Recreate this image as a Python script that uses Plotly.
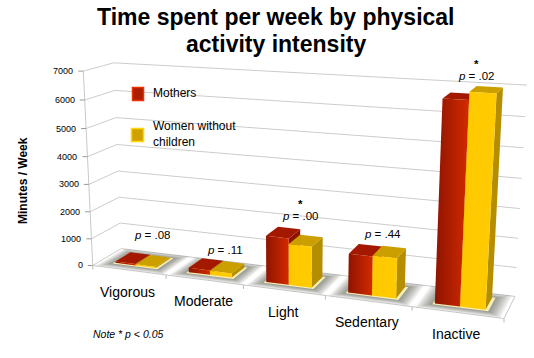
import numpy as np
import plotly.graph_objects as go

categories = ["Vigorous", "Moderate", "Light", "Sedentary", "Inactive"]
mothers = [50, 160, 1650, 1350, 6700]
women = [40, 150, 1450, 1380, 6950]
p_labels = ["<i>p</i> = .08", "<i>p</i> = .11", "<i>p</i> = .00", "<i>p</i> = .44", "<i>p</i> = .02"]
stars = ["", "", "*", "", "*"]
z_ticks = [0, 1000, 2000, 3000, 4000, 5000, 6000, 7000]
z_max = 7000

W, H = 534, 358
FONT = "Liberation Sans"

# Camera of the 3D chart: solved from where the box corners sit on the page.
box_corners = np.array([[0,0,0],[0,1,0],[5,1,0],[5,0,0],[0,0,7000],[0,1,7000],[5,1,7000]], float)
page_corners = np.array([[94,266],[120,248],[515,297],[504,318],[82,71],[115,63],[527,85]], float)

def solve_camera():
    rows = []
    for (x, y, z), (u, v) in zip(box_corners, page_corners):
        q = [x / 5, y, z / z_max, 1]
        rows.append(q + [0, 0, 0, 0] + [-u * a for a in q])
        rows.append([0, 0, 0, 0] + q + [-v * a for a in q])
    _, _, vt = np.linalg.svd(np.array(rows))
    return vt[-1].reshape(3, 4)

CAM = solve_camera()

def proj(x, y, z):
    h = CAM @ np.array([x / 5, y, z / z_max, 1.0])
    return h[0] / h[2], h[1] / h[2]

fig = go.Figure()

def poly(pts, color=None, gradient=None):
    uv = [proj(*p) for p in pts]
    xs = [a for a, _ in uv] + [uv[0][0]]
    ys = [b for _, b in uv] + [uv[0][1]]
    kw = dict(fillgradient=dict(type="horizontal", colorscale=[[0, gradient[0]], [1, gradient[1]]])) if gradient else dict(fillcolor=color)
    fig.add_trace(go.Scatter(x=xs, y=ys, mode="lines", fill="toself", line=dict(width=0), hoverinfo="skip", **kw))

def line(pts, color="#cccccc", width=1):
    uv = [proj(*p) for p in pts]
    fig.add_trace(go.Scatter(x=[a for a, _ in uv], y=[b for _, b in uv], mode="lines",
                             line=dict(color=color, width=width), hoverinfo="skip"))

# walls and floor
for t in z_ticks:
    line([(0, 0, t), (0, 1, t), (5, 1, t)])
line([(0, 0, 0), (0, 0, z_max)], "#c8c8c8")
line([(0, 0, 0), (5, 0, 0), (5, 1, 0)], "#c8c8c8")
for i in range(6):
    a = proj(i, 0, 0)
    fig.add_trace(go.Scatter(x=[a[0], a[0]], y=[a[1], a[1] + 4], mode="lines", line=dict(color="#bbbbbb", width=1), hoverinfo="skip"))
for t in z_ticks:
    a = proj(0, 0, t)
    fig.add_trace(go.Scatter(x=[a[0] - 5, a[0]], y=[a[1], a[1]], mode="lines", line=dict(color="#999999", width=1), hoverinfo="skip"))

y0, y1, hw = 0.26, 0.80, 0.28

def rect(x0, x1, b0, b1, z=0):
    return [(x0, b0, z), (x1, b0, z), (x1, b1, z), (x0, b1, z)]

def bar(x0, x1, v, front, top, side):
    poly([(x1, y0, 0), (x1, y1, 0), (x1, y1, v), (x1, y0, v)], side)
    poly(rect(x0, x1, y0, y1, v), top)
    poly([(x0, y0, 0), (x1, y0, 0), (x1, y0, v), (x0, y0, v)], gradient=front)

for i in range(5):
    cx = i + 0.49
    for k in range(9, 0, -1):
        e = k * 0.017
        poly(rect(cx - hw - 0.02 - e, cx + hw + 0.04 + e, y0 - 0.05 - e * 1.3, y1 + 0.03 + e * 1.3), "rgba(70,70,60,0.075)")
    poly(rect(cx - hw - 0.02, cx + hw + 0.035, y0 - 0.05, y1 + 0.03), "#f8f0b4")
    bar(cx - hw, cx, mothers[i], ("#8e1400", "#d42a00"), "#a51800", "#8e1400")
    bar(cx, cx + hw, women[i], ("#ffc800", "#ffcc00"), "#cc9f00", "#b58e00")

def note(x, y, text, size, **kw):
    return dict(xref="x", yref="y", x=x, y=y, text=text, showarrow=False,
                font=dict(size=size, color="black", family=FONT), **kw)

anns = []
label_shift = (-1, 21.5)
p_pos_dx = [2, 1, -1, -1, -1]
p_rise = [12, 3, 5, 4, 2]
for i, c in enumerate(categories):
    a = proj(i + 0.5, 0, 0)
    anns.append(note(a[0] + label_shift[0], a[1] + label_shift[1], c, 14))
    top = proj(i + 0.5, 0.8, max(mothers[i], women[i]))
    px, py = top[0] + p_pos_dx[i], top[1] - p_rise[i]
    anns.append(note(px, py, p_labels[i], 11.5, yanchor="bottom"))
    if stars[i]:
        anns.append(note(px, py - 12, "<b>" + stars[i] + "</b>", 11.5, yanchor="bottom"))
for t in z_ticks:
    a = proj(0, 0, t)
    anns.append(note(a[0] - 8, a[1], str(t), 9, xanchor="right"))

anns += [
    note(276, 17, "<b>Time spent per week by physical</b>", 23),
    note(276, 44, "<b>activity intensity</b>", 23),
    note(91, 334, "<i>Note * p < 0.05</i>", 10.5, xanchor="left"),
    note(23, 181, "<b>Minutes / Week</b>", 12, textangle=-90),
    note(151, 93, "Mothers", 12, xanchor="left"),
    note(151, 134, "Women without<br>children", 12, xanchor="left", align="left"),
]

shapes = [
    dict(type="rect", xref="x", yref="y", x0=132.5, x1=143.5, y0=87.5, y1=100.5, fillcolor="#ac1c00", line=dict(color="#f03000", width=1.5)),
    dict(type="rect", xref="x", yref="y", x0=131.5, x1=143.5, y0=128.5, y1=141.5, fillcolor="#d0a000", line=dict(color="#ffd800", width=1.5)),
]

fig.update_layout(
    width=W, height=H, margin=dict(l=0, r=0, t=0, b=0),
    paper_bgcolor="white", plot_bgcolor="white", showlegend=False, dragmode=False,
    xaxis=dict(range=[0, W], visible=False, fixedrange=True),
    yaxis=dict(range=[H, 0], visible=False, fixedrange=True),
    annotations=anns, shapes=shapes,
)
fig.write_html("out.html", config=dict(displayModeBar=False),
               post_script="document.body.style.margin='0';document.documentElement.style.overflow='hidden';")
